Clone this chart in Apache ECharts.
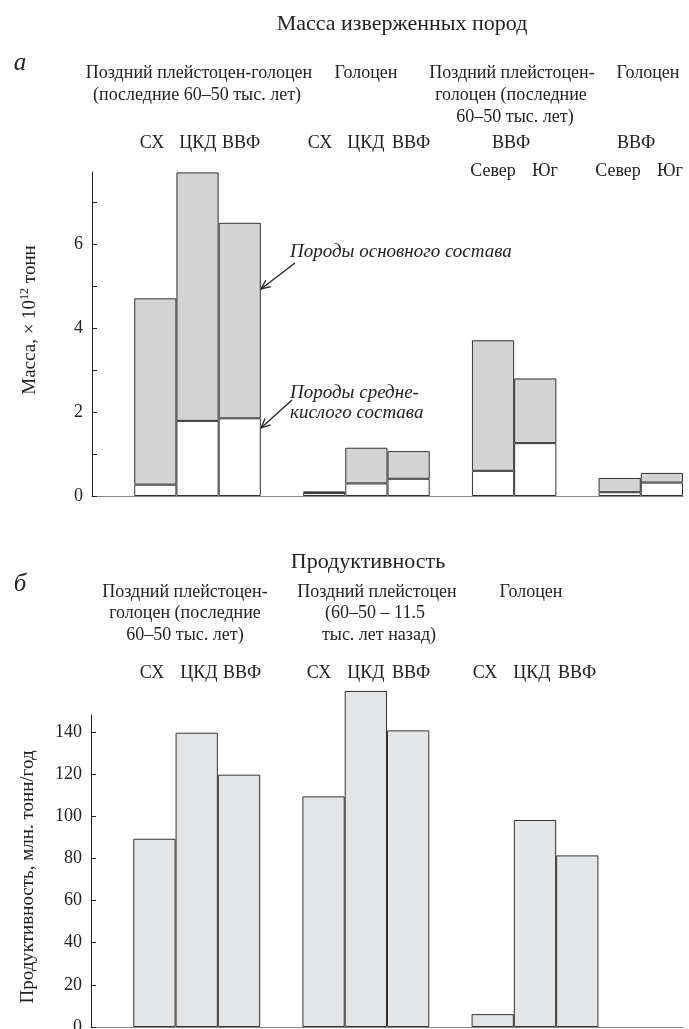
<!DOCTYPE html>
<html>
<head>
<meta charset="utf-8">
<script src="https://cdn.jsdelivr.net/npm/echarts@6/dist/echarts.min.js"></script>
<style>
html, body { margin: 0; padding: 0; background: #fff; }
#main { width: 689px; height: 1029px; }
</style>
</head>
<body>
<div id="main"></div>
<script>
// верхняя панель: масса изверженных пород (x10^12 т)
var massCats = ['', 'СХ', 'ЦКД', 'ВВФ', '', 'СХ', 'ЦКД', 'ВВФ', '', 'Север', 'Юг', '', 'Север', 'Юг'];
var massAcid = [null, 0.27, 1.79, 1.85, null, 0.07, 0.30, 0.41, null, 0.60, 1.26, null, 0.09, 0.32];
var massBasic = [null, 4.44, 5.92, 4.66, null, 0.04, 0.85, 0.66, null, 3.11, 1.54, null, 0.34, 0.23];
var massTicks = [0, 1, 2, 3, 4, 5, 6, 7];
var massLabels = [0, 2, 4, 6];

// нижняя панель: продуктивность (млн т/год)
var prodCats = ['', 'СХ', 'ЦКД', 'ВВФ', '', 'СХ', 'ЦКД', 'ВВФ', '', 'СХ', 'ЦКД', 'ВВФ', '', ''];
var prodValues = [null, 89.3, 139.6, 119.7, null, 109.4, 159.4, 140.7, null, 6.1, 98.2, 81.4, null, null];
var prodTicks = [0, 20, 40, 60, 80, 100, 120, 140];

var FONT = '"Liberation Serif", "DejaVu Serif", serif';
var INK = '#222';
var HS = 18; // размер подписей групп

function txt(s, x, y, size, opts) {
  opts = opts || {};
  return {
    type: 'text', x: x, y: y, rotation: opts.rotation || 0, silent: true,
    style: {
      text: s, fill: INK, fontFamily: FONT, fontSize: size,
      fontStyle: opts.italic ? 'italic' : 'normal',
      align: opts.align || 'center', verticalAlign: 'middle', rich: opts.rich
    }
  };
}

function arrow(x1, y1, x2, y2) {
  var dx = x1 - x2, dy = y1 - y2;
  var len = Math.sqrt(dx * dx + dy * dy);
  var ux = dx / len, uy = dy / len;
  var h = 10, a = 0.42;
  var c = Math.cos(a), s = Math.sin(a);
  var p1 = [x2 + h * (ux * c - uy * s), y2 + h * (ux * s + uy * c)];
  var p2 = [x2 + h * (ux * c + uy * s), y2 + h * (-ux * s + uy * c)];
  return [
    { type: 'line', silent: true, shape: { x1: x1, y1: y1, x2: x2, y2: y2 }, style: { stroke: INK, lineWidth: 1.3 } },
    { type: 'polyline', silent: true, shape: { points: [p1, [x2, y2], p2] }, style: { stroke: INK, lineWidth: 1.3, fill: null } }
  ];
}

var supRich = { sup: { fontSize: 12, fontFamily: FONT, fill: INK, padding: [0, 0, 10, 0] } };

var headers = [
  txt('Масса изверженных пород', 402, 24, 22),
  txt('а', 20, 63, 25, { italic: true }),
  txt('Поздний плейстоцен-голоцен', 199, 73, HS),
  txt('(последние 60–50 тыс. лет)', 197, 95, HS),
  txt('Голоцен', 366, 73, HS),
  txt('Поздний плейстоцен-', 512, 73, HS),
  txt('голоцен (последние', 511, 95, HS),
  txt('60–50 тыс. лет)', 515, 117, HS),
  txt('Голоцен', 648, 73, HS),
  txt('СХ', 152, 143, HS), txt('ЦКД', 198, 143, HS), txt('ВВФ', 241, 143, HS),
  txt('СХ', 320, 143, HS), txt('ЦКД', 366, 143, HS), txt('ВВФ', 411, 143, HS),
  txt('ВВФ', 511, 143, HS), txt('Север', 493, 171, HS), txt('Юг', 545, 171, HS),
  txt('ВВФ', 636, 143, HS), txt('Север', 618, 171, HS), txt('Юг', 670, 171, HS),
  txt('Породы основного состава', 290, 252, 19, { italic: true, align: 'left' }),
  txt('Породы средне-', 290, 393, 19, { italic: true, align: 'left' }),
  txt('кислого состава', 290, 413, 19, { italic: true, align: 'left' }),
  txt('Масса, × 10{sup|12} тонн', 30, 320, 19, { rotation: Math.PI / 2, rich: supRich }),

  txt('Продуктивность', 368, 562, 22),
  txt('б', 20, 584, 25, { italic: true }),
  txt('Поздний плейстоцен-', 185, 592, HS),
  txt('голоцен (последние', 185, 613, HS),
  txt('60–50 тыс. лет)', 185, 635, HS),
  txt('Поздний плейстоцен', 377, 592, HS),
  txt('(60–50 – 11.5', 375, 613, HS),
  txt('тыс. лет назад)', 379, 635, HS),
  txt('Голоцен', 531, 592, HS),
  txt('СХ', 152, 673, HS), txt('ЦКД', 199, 673, HS), txt('ВВФ', 242, 673, HS),
  txt('СХ', 319, 673, HS), txt('ЦКД', 366, 673, HS), txt('ВВФ', 411, 673, HS),
  txt('СХ', 485, 673, HS), txt('ЦКД', 532, 673, HS), txt('ВВФ', 577, 673, HS),
  txt('Продуктивность, млн. тонн/год', 28, 877, 19, { rotation: Math.PI / 2 })
].concat(arrow(295, 263, 261, 289)).concat(arrow(292, 400, 261, 428));

var yAxisBase = {
  type: 'value', min: 0,
  axisLine: { show: true, lineStyle: { color: INK, width: 1 } },
  axisTick: { show: true, inside: true, length: 5, lineStyle: { color: INK } },
  axisLabel: { color: INK, fontFamily: FONT, fontSize: 18, margin: 9 },
  splitLine: { show: false }
};

var xAxisBase = {
  type: 'category', boundaryGap: true,
  axisLine: { show: true, lineStyle: { color: '#888', width: 1 } },
  axisTick: { show: false }, axisLabel: { show: false }
};

var chart = echarts.init(document.getElementById('main'), null, { renderer: 'canvas' });
chart.setOption({
  backgroundColor: '#fff',
  animation: false,
  grid: [
    { left: 92, right: 6, top: 172, height: 324, containLabel: false, outerBoundsMode: 'none' },
    { left: 91, right: 6, top: 715, bottom: 2, containLabel: false, outerBoundsMode: 'none' }
  ],
  xAxis: [
    Object.assign({}, xAxisBase, { gridIndex: 0, data: massCats }),
    Object.assign({}, xAxisBase, { gridIndex: 1, data: prodCats })
  ],
  yAxis: [
    Object.assign({}, yAxisBase, {
      gridIndex: 0, max: 7.72, interval: 1,
      axisTick: Object.assign({}, yAxisBase.axisTick, { customValues: massTicks }),
      axisLabel: Object.assign({}, yAxisBase.axisLabel, { customValues: massLabels })
    }),
    Object.assign({}, yAxisBase, {
      gridIndex: 1, max: 148, interval: 20,
      axisTick: Object.assign({}, yAxisBase.axisTick, { customValues: prodTicks }),
      axisLabel: Object.assign({}, yAxisBase.axisLabel, { customValues: prodTicks })
    })
  ],
  series: [
    {
      name: 'Породы средне-кислого состава', type: 'bar', stack: 'mass',
      xAxisIndex: 0, yAxisIndex: 0, barCategoryGap: '0%', data: massAcid,
      itemStyle: { color: '#ffffff', borderColor: '#333', borderWidth: 1 }
    },
    {
      name: 'Породы основного состава', type: 'bar', stack: 'mass',
      xAxisIndex: 0, yAxisIndex: 0, barCategoryGap: '0%', data: massBasic,
      itemStyle: { color: '#d3d3d4', borderColor: '#333', borderWidth: 1 }
    },
    {
      name: 'Продуктивность', type: 'bar', clip: false,
      xAxisIndex: 1, yAxisIndex: 1, barCategoryGap: '0%', data: prodValues,
      itemStyle: { color: '#e4e5e7', borderColor: '#333', borderWidth: 1 }
    }
  ],
  graphic: headers
});
</script>
</body>
</html>
